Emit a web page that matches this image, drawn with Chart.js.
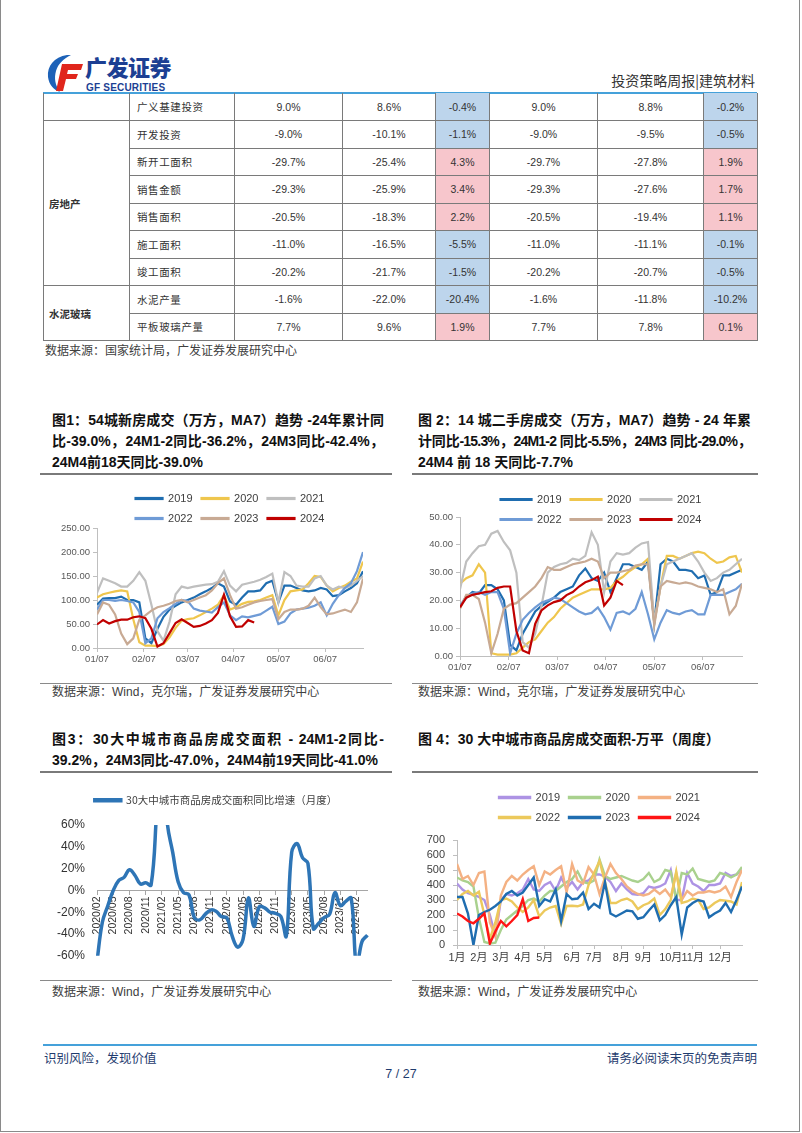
<!DOCTYPE html>
<html lang="zh-CN">
<head>
<meta charset="utf-8">
<title>投资策略周报 | 建筑材料</title>
<script src="https://cdn.jsdelivr.net/npm/chart.js@4.4.1/dist/chart.umd.min.js"></script>
<style>
  html, body { margin: 0; padding: 0; background: #fff; }
  body { width: 802px; height: 1133px; position: relative; overflow: hidden;
         font-family: "Liberation Sans", Arial, "Noto Sans CJK SC", sans-serif; color: #222; }
  .abs { position: absolute; }
  .frame { position: absolute; left: 0; top: -1px; width: 798px; height: 1131px; border: 1px solid #8a8a8a; }
  #brand { left: 85px; top: 52px; font: 900 22px/28px "Noto Sans CJK SC", sans-serif; color: #1c3f93; letter-spacing: -0.5px; }
  #brandEn { left: 86px; top: 82px; font: bold 10px/11px "Liberation Sans", Arial, sans-serif; color: #1c3f93; letter-spacing: 0.2px; }
  #rpt { right: 47px; top: 71px; font: 14px/18px "Noto Sans CJK SC", sans-serif; color: #333; }
  .blue { background: #45a1da; height: 2px; }
  .hr { height: 1.5px; background: #7a7a7a; }
  .thin { height: 1px; background: #8a8a8a; }
  .src { font: 12px/15px "Liberation Sans", "Noto Sans CJK SC", sans-serif; color: #404040; white-space: nowrap; }
  .ttl { font: bold 14px/21px "Liberation Sans", Arial, "Noto Sans CJK SC", sans-serif; color: #111; }
  .ttl div { white-space: nowrap; }
  .ttl .j { text-align: justify; text-align-last: justify; }
  #tbl { position: absolute; left: 43px; top: 93px; width: 714px; border-collapse: collapse; table-layout: fixed;
         font: 10.5px "Liberation Sans", Arial, "Noto Sans CJK SC", sans-serif; color: #333; }
  #tbl td { height: 27.5px; padding: 0; border: 1px solid #7a7a7a; text-align: center; box-sizing: border-box; }
  #tbl tr:first-child td { border-top: none; }
  #tbl td.item { text-align: left; padding-left: 7px; font-family: "Noto Sans CJK SC", sans-serif; letter-spacing: 0.6px; }
  #tbl td.grp { text-align: left; padding-left: 5px; font-weight: bold; font-family: "Noto Sans CJK SC", sans-serif; }
  #tbl td.neg { background: #bdd5ec; }
  #tbl td.pos { background: #f7c6cc; }
  .foot { font: 12.5px/15px "Noto Sans CJK SC", sans-serif; color: #1f3c6e; white-space: nowrap; }
  canvas { position: absolute; }
</style>
</head>
<body>
<div class="frame"></div>

<svg class="abs" style="left:45px;top:53px" width="40" height="40" viewBox="0 0 40 40">
  <path d="M22 2 C9 4 2 13 3 24 C4 32 9 37 15 39 C10 32 9 25 11 18 C13 11 18 6 26 2 Z" fill="#1d62b8"/>
  <path d="M17 11 H38 L36 17 H23 L22 21 H33 L31 26 H21 L18 38 H11 Z" fill="#e0261c"/>
</svg>
<div id="brand" class="abs">广发证券</div>
<div id="brandEn" class="abs">GF SECURITIES</div>
<div id="rpt" class="abs">投资策略周报|建筑材料</div>

<div class="abs blue" style="left:43px;top:92px;width:714px"></div>
<table id="tbl">
  <colgroup>
    <col style="width:86px"><col style="width:105px"><col style="width:108px"><col style="width:93px">
    <col style="width:54px"><col style="width:108px"><col style="width:106px"><col style="width:54px">
  </colgroup>
  <tbody id="tbody"></tbody>
</table>
<div class="abs src" style="left:45px;top:344px">数据来源：国家统计局，广发证券发展研究中心</div>

<!-- 图1 / 图2 -->
<div class="abs ttl" style="left:52px;top:410px;width:332px">
  <div class="j">图1：54城新房成交（万方，MA7）趋势 -24年累计同</div>
  <div class="j">比-39.0%，24M1-2同比-36.2%，24M3同比-42.4%，</div>
  <div>24M4前18天同比-39.0%</div>
</div>
<div class="abs ttl" style="left:418px;top:410px;width:333px">
  <div class="j">图 2：14 城二手房成交（万方，MA7）趋势 - 24 年累</div>
  <div class="j" style="letter-spacing:-0.8px">计同比-15.3%，24M1-2 同比-5.5%，24M3 同比-29.0%，</div>
  <div>24M4 前 18 天同比-7.7%</div>
</div>
<div class="abs hr" style="left:40px;top:473px;width:352px"></div>
<div class="abs hr" style="left:412px;top:473px;width:346px"></div>

<canvas id="c1" width="315" height="184" style="left:50px;top:484px"></canvas>
<canvas id="c2" width="331" height="191" style="left:413px;top:485px"></canvas>

<div class="abs thin" style="left:40px;top:683px;width:352px"></div>
<div class="abs thin" style="left:412px;top:683px;width:346px"></div>
<div class="abs src" style="left:52px;top:685px">数据来源：Wind，克尔瑞，广发证券发展研究中心</div>
<div class="abs src" style="left:418px;top:685px">数据来源：Wind，克尔瑞，广发证券发展研究中心</div>

<!-- 图3 / 图4 -->
<div class="abs ttl" style="left:52px;top:729px;width:332px">
  <div class="j">图3：30大中城市商品房成交面积 - 24M1-2同比-</div>
  <div>39.2%，24M3同比-47.0%，24M4前19天同比-41.0%</div>
</div>
<div class="abs ttl" style="left:418px;top:729px;width:333px">
  <div>图 4：30 大中城市商品房成交面积-万平（周度）</div>
</div>
<div class="abs hr" style="left:40px;top:771px;width:352px"></div>
<div class="abs hr" style="left:412px;top:771px;width:346px"></div>

<canvas id="c3" width="330" height="181" style="left:52px;top:786px"></canvas>
<canvas id="c4" width="334" height="186" style="left:410px;top:783px"></canvas>

<div class="abs thin" style="left:40px;top:980px;width:352px"></div>
<div class="abs thin" style="left:412px;top:980px;width:346px"></div>
<div class="abs src" style="left:52px;top:985px">数据来源：Wind，广发证券发展研究中心</div>
<div class="abs src" style="left:418px;top:985px">数据来源：Wind，广发证券发展研究中心</div>

<div class="abs blue" style="left:43px;top:1044px;width:714px"></div>
<div class="abs foot" style="left:44px;top:1050px">识别风险，发现价值</div>
<div class="abs foot" style="right:45px;top:1050px">请务必阅读末页的免责声明</div>
<div class="abs foot" style="left:0;width:802px;text-align:center;top:1067px;font-family:'Liberation Sans',Arial,sans-serif">7 / 27</div>

<script>
// ---------- 表格：宏观与行业数据同比 ----------
const rowItems = ['广义基建投资', '开发投资', '新开工面积', '销售金额', '销售面积', '施工面积', '竣工面积', '水泥产量', '平板玻璃产量'];
const rowGroups = [['', 1], ['房地产', 6], ['水泥玻璃', 2]];
const cumA = [9.0, -9.0, -29.7, -29.3, -20.5, -11.0, -20.2, -1.6, 7.7];
const cumB = [8.6, -10.1, -25.4, -25.9, -18.3, -16.5, -21.7, -22.0, 9.6];
const diffAB = [-0.4, -1.1, 4.3, 3.4, 2.2, -5.5, -1.5, -20.4, 1.9];
const cumC = [9.0, -9.0, -29.7, -29.3, -20.5, -11.0, -20.2, -1.6, 7.7];
const cumD = [8.8, -9.5, -27.8, -27.6, -19.4, -11.1, -20.7, -11.8, 7.8];
const diffCD = [-0.2, -0.5, 1.9, 1.7, 1.1, -0.1, -0.5, -10.2, 0.1];

// ---------- 图1：54城新房成交（万方，MA7），横轴为自01/07起的天数 ----------
const newDays = [0, 4, 8, 12, 16, 20, 24, 28, 32, 36, 40, 44, 48, 52, 56, 60, 64, 68, 72, 76, 80, 84, 88,
  92, 96, 100, 104, 108, 112, 116, 120, 124, 128, 132, 136, 140, 144, 148, 152, 156, 160, 164, 168, 172, 176];
const ne2019 = [90, 103, 104, 104, 107, 100, 100, 95, 20, 10, 40, 65, 80, 88, 95, 100, 105, 112, 118, 125, 135, 128, 97,
  90, 105, 118, 118, 120, 135, 140, 95, 130, 130, 125, 120, 118, 120, 125, 122, 108, 110, 118, 125, 135, 160];
const ne2020 = [105, 112, 115, 118, 120, 118, 60, 12, 5, 5, 4, 8, 22, 42, 57, 60, 62, 68, 75, 82, 90, 110, 80,
  85, 92, 96, 97, 100, 105, 110, 68, 100, 118, 120, 122, 135, 150, 148, 130, 118, 125, 130, 138, 145, 180];
const ne2021 = [115, 145, 140, 135, 128, 128, 140, 158, 140, 90, 35, 15, 55, 112, 128, 125, 128, 130, 132, 133, 138, 160, 130,
  118, 132, 135, 138, 142, 148, 155, 95, 158, 150, 130, 128, 128, 145, 150, 130, 122, 128, 125, 130, 140, 150];
const ne2022 = [80, 100, 100, 98, 100, 98, 95, 75, 10, 20, 62, 75, 83, 92, 100, 98, 82, 78, 76, 74, 85, 95, 68,
  58, 66, 64, 67, 70, 78, 86, 50, 55, 72, 80, 82, 84, 88, 95, 68, 92, 110, 125, 135, 160, 200];
const ne2023 = [70, 95, 90, 70, 30, 8, 20, 59, 68, 78, 85, 88, 92, 98, 100, 95, 100, 105, 110, 120, 135, 145, 110,
  82, 85, 90, 95, 98, 100, 102, 60, 75, 80, 80, 82, 88, 105, 85, 70, 72, 76, 80, 75, 95, 145];
const ne2024 = [49, 58, 51, 56, 59, 59, 64, 66, 62, 40, 3, 10, 31, 52, 60, 52, 44, 46, 51, 58, 73, 111, 66,
  44, 45, 58, 53];
const newTickDays = [0, 31, 60, 90, 120, 151];
const dayLabels = ['01/07', '02/07', '03/07', '04/07', '05/07', '06/07'];

// ---------- 图2：14城二手房成交（万方，MA7） ----------
const secDays = [0, 4, 8, 12, 16, 20, 24, 28, 32, 36, 40, 44, 48, 52, 56, 60, 64, 68, 72, 76, 80, 84, 88,
  92, 96, 100, 104, 108, 112, 116, 120, 124, 128, 132, 136, 140, 144, 148, 152, 156, 160, 164, 168, 172, 176, 180];
const sh2019 = [18, 21, 23, 22.5, 25.5, 25.5, 24, 20, 4, 2, 8, 12, 16, 18, 19.5, 21, 23, 24, 25, 29, 31.5, 28, 27,
  30, 23, 28, 33, 33, 32, 31, 34, 12, 33, 35, 34, 31, 31, 30.5, 28, 29, 22, 23, 29, 29, 30, 31];
const sh2020 = [26, 28, 29, 33, 30, 1, 0.5, 0.5, 0.5, 1, 3, 5, 6, 9, 12, 14, 17, 19, 21, 22, 23, 24, 24,
  24, 24.5, 27, 28.5, 30.5, 32, 33, 35, 12, 25, 36, 36, 35, 36, 37, 37.5, 37, 35, 33.5, 34, 35.5, 36, 30];
const sh2021 = [24, 34, 37, 39.5, 40, 44, 45, 41, 38, 30, 5, 3, 8, 18, 30, 32, 33, 33.5, 35, 34.5, 36, 44.5, 40,
  23, 34, 37, 36.5, 37, 39, 40.5, 41, 12, 25, 33, 34, 35, 36, 37, 34, 30, 27, 28, 30, 31, 33, 35];
const sh2022 = [18, 21.5, 22.5, 23, 22, 23, 23, 17, 1, 8, 13, 15.5, 17.5, 19.2, 20, 21, 20.5, 19, 17.5, 16, 15, 15.5, 17.5,
  14, 9.5, 15.5, 16, 15, 17, 23, 15, 6, 12, 16.5, 15.5, 15, 16, 16.5, 15, 15, 22, 22, 22, 23, 24, 26];
const sh2023 = [17, 22, 22, 20.5, 12, 1, 8, 17, 18.5, 19, 21, 23, 25, 28, 32, 31, 31, 32, 33, 33.5, 34, 35, 34,
  28, 30, 30, 30.5, 31, 32.5, 33, 33, 11, 25, 27, 26.5, 26, 26.5, 26, 25, 24.5, 24, 23, 24, 15, 18, 26];
const sh2024 = [17.5, 21, 22, 22.5, 23, 23.3, 24.5, 25, 25, 9, 2, 1, 11.6, 16.4, 18.2, 19.4, 20, 21.9, 23, 25, 26.5, 27.3, 28.5,
  18.2, 21, 27, 25.5];
const secTickDays = [0, 31, 62, 93, 124, 155];

// ---------- 图3：30大中城市商品房成交面积同比增速（月度） ----------
const yoyMonths = ['2020/02', '2020/03', '2020/04', '2020/05', '2020/06', '2020/07', '2020/08', '2020/09', '2020/10',
  '2020/11', '2020/12', '2021/01', '2021/02', '2021/03', '2021/04', '2021/05', '2021/06', '2021/07', '2021/08',
  '2021/09', '2021/10', '2021/11', '2021/12', '2022/01', '2022/02', '2022/03', '2022/04', '2022/05', '2022/06',
  '2022/07', '2022/08', '2022/09', '2022/10', '2022/11', '2022/12', '2023/01', '2023/02', '2023/03', '2023/04',
  '2023/05', '2023/06', '2023/07', '2023/08', '2023/09', '2023/10', '2023/11', '2023/12', '2024/01', '2024/02',
  '2024/03', '2024/04'];
const yoy30 = [-65, -29, -14, 0, 9, 12, 19, 14, 6, 7, 5, 70, 150, 62, 35, 8, -2, -4, -25, -27, -22, -18, -19,
  -24, -25, -42, -52, -45, -7, -33, -15, -16, -20, -21, -24, -42, 35, 43, 30, 25, -35, -30, -25, -22, -2,
  -14, -10, -7, -70, -47, -41];

// ---------- 图4：30大中城市商品房成交面积（万平，周度），横轴为周序号 ----------
const wk2019 = [410, 370, 345, 335, 320, 300, 200, 60, 300, 340, 330, 345, 370, 440, 370, 360, 400, 420, 360, 450, 380,
  420, 370, 420, 430, 470, 470, 455, 420, 360, 410, 370, 340, 335, 345, 390, 380, 390, 410, 500, 300, 300, 480,
  410, 390, 360, 400, 400, 410, 480, 460, 470, 500];
const wk2020 = [450, 430, 420, 390, 180, 20, 10, 15, 100, 170, 200, 230, 260, 300, 310, 290, 330, 360, 360, 390, 420,
  440, 490, 420, 410, 430, 570, 460, 440, 450, 460, 445, 430, 420, 440, 480, 420, 440, 500, 490, 300, 480, 470,
  510, 440, 430, 420, 430, 480, 470, 450, 470, 520];
const wk2021 = [540, 440, 460, 400, 480, 490, 150, 60, 330, 420, 460, 430, 470, 500, 525, 400, 490, 470, 500, 525, 350,
  540, 430, 410, 520, 470, 340, 450, 540, 480, 440, 390, 360, 340, 330, 340, 370, 340, 370, 320, 480, 300, 360,
  330, 350, 350, 360, 350, 360, 390, 320, 420, 500];
const wk2022 = [300, 340, 360, 330, 355, 200, 40, 150, 300, 310, 290, 250, 220, 250, 300, 190, 230, 250, 260, 140, 260,
  262, 258, 270, 400, 480, 560, 420, 280, 280, 300, 310, 290, 240, 265, 280, 310, 200, 240, 300, 490, 280, 290,
  310, 300, 240, 250, 280, 300, 295, 290, 270, 420];
const wk2023 = [320, 320, 210, 0, 200, 220, 235, 260, 290, 340, 360, 330, 350, 400, 450, 260, 305, 290, 370, 160, 340,
  305, 310, 350, 240, 275, 250, 420, 210, 190, 210, 230, 225, 175, 185, 230, 270, 165, 200, 265, 320, 70, 250,
  280, 300, 290, 185, 210, 230, 280, 220, 300, 390];
const wk2024 = [210, 190, 160, 145, 175, 210, 10, 90, 160, 125, 160, 200, 305, 160, 180, 183];
const monthTickWeeks = [0, 4, 8, 12, 16, 21, 25, 30, 34, 39, 43, 48];
const monthLabels = ['1月', '2月', '3月', '4月', '5月', '6月', '7月', '8月', '9月', '10月', '11月', '12月'];

const trendColors = ['#1f6db0', '#efc64d', '#bfbfbf', '#6f9bd6', '#c8aa94', '#c00000'];
const weeklyColors = ['#ad93e4', '#a9d18e', '#f4b183', '#ecc95c', '#1f6db0', '#ff1414'];
const yearNames = ['2019', '2020', '2021', '2022', '2023', '2024'];

Chart.defaults.font.family = '"Liberation Sans", Arial, "Noto Sans CJK SC", sans-serif';

// 图2 的图例第二行压在绘图区上沿，布局后把图例的裁剪框往下放一点
const legendOverflow = {
  id: 'legendOverflow',
  afterLayout(chart, args, opts) {
    if (chart.legend && opts.extra) {
      chart.legend.height += opts.extra;
      chart.legend.bottom += opts.extra;
    }
  }
};

// 表格
function pct(v) { return v.toFixed(1) + '%'; }
function buildTable() {
  let html = '';
  let r = 0;
  rowGroups.forEach(([name, span]) => {
    for (let k = 0; k < span; k++, r++) {
      html += '<tr>';
      if (k === 0) html += '<td class="grp" rowspan="' + span + '">' + name + '</td>';
      html += '<td class="item">' + rowItems[r] + '</td>';
      html += '<td>' + pct(cumA[r]) + '</td><td>' + pct(cumB[r]) + '</td>';
      html += '<td class="' + (diffAB[r] < 0 ? 'neg' : 'pos') + '">' + pct(diffAB[r]) + '</td>';
      html += '<td>' + pct(cumC[r]) + '</td><td>' + pct(cumD[r]) + '</td>';
      html += '<td class="' + (diffCD[r] < 0 ? 'neg' : 'pos') + '">' + pct(diffCD[r]) + '</td>';
      html += '</tr>';
    }
  });
  document.getElementById('tbody').innerHTML = html;
}

function yearSets(xs, seriesList, colors, width) {
  return seriesList.map((values, i) => ({
    label: yearNames[i],
    data: values.map((v, k) => ({ x: xs[k], y: v })),
    borderColor: colors[i],
    backgroundColor: colors[i],
    borderWidth: width,
    pointRadius: 0,
    tension: 0,
    order: seriesList.length - i
  }));
}

function lineOptions(o) {
  return {
    responsive: false,
    animation: false,
    layout: { padding: { right: 2 } },
    plugins: {
      legend: {
        position: 'top', fullSize: false, maxHeight: o.legendMax,
        labels: { boxWidth: o.boxW, boxHeight: 1, padding: 9, color: '#404040', font: { size: 11 },
                  sort: (a, b) => a.datasetIndex - b.datasetIndex }
      },
      subtitle: o.spacer ? { display: true, text: '', weight: 500, padding: 0, font: { size: o.spacer / 1.2 } }
                         : { display: false },
      legendOverflow: { extra: o.legendExtra || 0 },
      tooltip: { enabled: false }
    },
    scales: {
      x: {
        type: 'linear', min: 0, max: o.xMax,
        afterBuildTicks: ax => { ax.ticks = o.xTicks.map(v => ({ value: v })); },
        afterFit: ax => { ax.height = o.xH; },
        grid: { drawOnChartArea: false, tickLength: 4, color: '#bfbfbf' },
        border: { color: '#bfbfbf' },
        ticks: { autoSkip: false, maxRotation: 0, padding: o.xPad, color: o.tickColor,
                 font: { size: o.xSize }, callback: (v, i) => o.xLabels[i] }
      },
      y: {
        min: 0, max: o.yMax,
        afterFit: ax => { ax.width = o.yW; },
        grid: { drawOnChartArea: false, tickLength: 4, color: '#bfbfbf' },
        border: { color: '#bfbfbf' },
        ticks: { autoSkip: false, stepSize: o.yStep, padding: o.yPad, color: o.tickColor,
                 font: { size: o.ySize }, callback: o.yFmt }
      }
    }
  };
}

function drawNewHouse() {
  new Chart(document.getElementById('c1'), {
    type: 'line',
    data: { datasets: yearSets(newDays, [ne2019, ne2020, ne2021, ne2022, ne2023, ne2024], trendColors, 2.2) },
    options: lineOptions({ legendMax: 44, boxW: 27, xMax: 176, xTicks: newTickDays, xLabels: dayLabels, xH: 20, xPad: 1.5,
                           xSize: 9.5, yMax: 250, yStep: 50, yW: 47, yPad: 3, ySize: 9.5, tickColor: '#595959',
                           yFmt: v => v.toFixed(2) })
  });
}

function drawSecondHand() {
  new Chart(document.getElementById('c2'), {
    type: 'line',
    data: { datasets: yearSets(secDays, [sh2019, sh2020, sh2021, sh2022, sh2023, sh2024], trendColors, 2.2) },
    options: lineOptions({ legendMax: 32, legendExtra: 20, boxW: 31, xMax: 180, xTicks: secTickDays, xLabels: dayLabels,
                           xH: 20, xPad: 1.5, xSize: 9.5, yMax: 50, yStep: 10, yW: 47, yPad: 3, ySize: 9.5,
                           tickColor: '#595959', yFmt: v => v.toFixed(2) }),
    plugins: [legendOverflow]
  });
}

function drawYoy() {
  new Chart(document.getElementById('c3'), {
    type: 'line',
    data: {
      labels: yoyMonths,
      datasets: [{
        label: '30大中城市商品房成交面积同比增速（月度）',
        data: yoy30,
        borderColor: '#2e75b6',
        backgroundColor: '#2e75b6',
        borderWidth: 3.5,
        pointRadius: 0,
        tension: 0.4
      }]
    },
    options: {
      responsive: false,
      animation: false,
      layout: { padding: { right: 2 } },
      plugins: {
        legend: { position: 'top', fullSize: true,
                  labels: { boxWidth: 26, boxHeight: 1, padding: 9, color: '#404040',
                            font: { size: 10.5, family: '"Noto Sans CJK SC", sans-serif' } } },
        subtitle: { display: true, text: '', weight: 500, padding: 0, font: { size: 8 } },
        tooltip: { enabled: false }
      },
      scales: {
        x: {
          position: { y: 0 },
          grid: { drawOnChartArea: false, tickLength: 4,
                  color: c => (c.index % 3 === 0 ? '#a6a6a6' : 'rgba(0,0,0,0)') },
          border: { color: '#a6a6a6' },
          ticks: { autoSkip: false, minRotation: 90, maxRotation: 90, padding: 2, color: '#333',
                   font: { size: 10.5 }, callback: (v, i) => (i % 3 === 0 ? yoyMonths[i] : '') }
        },
        y: {
          min: -60, max: 60,
          afterFit: ax => { ax.width = 45; },
          grid: { display: false },
          border: { display: false },
          ticks: { autoSkip: false, stepSize: 20, padding: 4, color: '#333', font: { size: 12 }, callback: v => v + '%' }
        }
      }
    }
  });
}

function drawWeekly() {
  const weekIdx = wk2019.map((v, i) => i);
  new Chart(document.getElementById('c4'), {
    type: 'line',
    data: { datasets: yearSets(weekIdx, [wk2019, wk2020, wk2021, wk2022, wk2023, wk2024], weeklyColors, 2.4) },
    options: lineOptions({ legendMax: 50, boxW: 31, spacer: 7, xMax: 52, xTicks: monthTickWeeks, xLabels: monthLabels,
                           xH: 24, xPad: 2.5, xSize: 11, yMax: 700, yStep: 100, yW: 47, yPad: 8, ySize: 11,
                           tickColor: '#404040', yFmt: v => v })
  });
}

document.addEventListener('DOMContentLoaded', function () {
  buildTable();
  drawNewHouse();
  drawSecondHand();
  drawYoy();
  drawWeekly();
});
</script>
</body>
</html>
